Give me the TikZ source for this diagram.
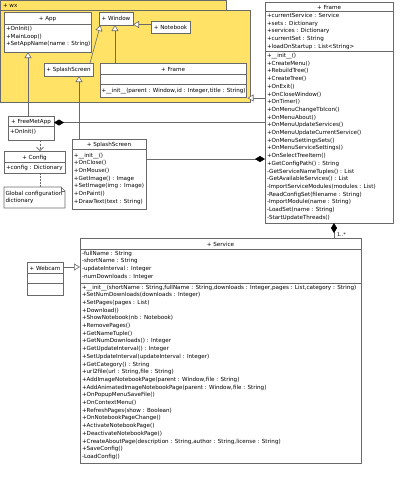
\documentclass[tikz,border=0pt]{standalone}
\usepackage{fontspec}
\setmainfont{DejaVu Sans}
\usetikzlibrary{arrows.meta,calc}
\definecolor{pkgfill}{RGB}{255,226,102}
\definecolor{linec}{RGB}{105,105,105}
\begin{document}
\begin{tikzpicture}[x=1pt,y=-1pt,
  font=\fontsize{5.6}{7.7}\selectfont,
  cls/.style={draw=linec, fill=white, line width=0.6pt, inner sep=0pt, outer sep=0pt, anchor=north west},
  pkg/.style={draw=linec, fill=pkgfill, line width=0.6pt, inner sep=0pt, outer sep=0pt, anchor=north west},
  sep/.style={draw=linec, line width=0.6pt},
  txt/.style={inner sep=0pt, outer sep=0pt, text=black},
  gen/.style={draw=linec, line width=0.6pt, arrows={-Triangle[length=6pt,width=7pt,fill=white]}},
  compS/.style={draw=linec, line width=0.6pt, arrows={Diamond[length=10pt,width=6pt,color=black]-}},
  compE/.style={draw=linec, line width=0.6pt, arrows={-Diamond[length=10pt,width=6pt,color=black]}},
  dep/.style={draw=linec, line width=0.6pt, dash pattern=on 2pt off 1.5pt, arrows={-Straight Barb[length=3.5pt,width=7pt]}},
  notelink/.style={draw=linec, line width=0.6pt, dash pattern=on 1.5pt off 1.5pt}
]
\fill[white] (0,0) rectangle (400,480);
\useasboundingbox (0,0) rectangle (400,480);

% ---------- package wx ----------
\node[pkg, minimum width=226pt, minimum height=10pt] (wxtab) at (0.5,0.5) {};
\node[pkg, minimum width=249.5pt, minimum height=92pt] (wxbody) at (0.5,10.5) {};
\node[txt, anchor=base west] (wxlbl) at (3,7.5) {+ wx};

% App
\node[cls, minimum width=87pt, minimum height=40pt] (app) at (4,12) {};
\draw[sep] ([shift={(0,12)}]app.north west) -- ([shift={(0,12)}]app.north east);
\node[txt, anchor=base] (apph) at ([shift={(0,8.5)}]app.north) {+ App};
\foreach \mt [count=\i from 0] in {{+OnInit()},{+MainLoop()},{+SetAppName(name : String)}}
  \node[txt, anchor=base west] (appm\i) at ([shift={(2,18.5+\i*7.7)}]app.north west) {\mt};

% Window
\node[cls, minimum width=34pt, minimum height=13pt] (win) at (99,12) {};
\node[txt, anchor=base] (winh) at ([shift={(0,8.8)}]win.north) {+ Window};

% Notebook
\node[cls, minimum width=39pt, minimum height=12pt] (nb) at (151,21) {};
\node[txt, anchor=base] (nbh) at ([shift={(0,8.5)}]nb.north) {+ Notebook};

% SplashScreen (wx)
\node[cls, minimum width=49pt, minimum height=13pt] (wxss) at (44,63) {};
\node[txt, anchor=base] (wxssh) at ([shift={(0,8.8)}]wxss.north) {+ SplashScreen};

% Frame (wx)
\node[cls, minimum width=146pt, minimum height=34pt] (wxfr) at (100,63) {};
\draw[sep] ([shift={(0,11.5)}]wxfr.north west) -- ([shift={(0,11.5)}]wxfr.north east);
\draw[sep] ([shift={(0,21.5)}]wxfr.north west) -- ([shift={(0,21.5)}]wxfr.north east);
\node[txt, anchor=base] (wxfrh) at ([shift={(0,8)}]wxfr.north) {+ Frame};
\node[txt, anchor=base west] (wxfrm) at ([shift={(1.5,29.5)}]wxfr.north west) {+\_\_init\_\_(parent : Window,id : Integer,title : String)};

% ---------- Frame (outer) ----------
\node[cls, minimum width=128pt, minimum height=221pt] (frm) at (265,2) {};
\draw[sep] ([shift={(0,9.5)}]frm.north west) -- ([shift={(0,9.5)}]frm.north east);
\draw[sep] ([shift={(0,49)}]frm.north west) -- ([shift={(0,49)}]frm.north east);
\node[txt, anchor=base] (frmh) at ([shift={(0,7)}]frm.north) {+ Frame};
\foreach \mt [count=\i from 0] in {{+currentService : Service},{+sets : Dictionary},{+services : Dictionary},{+currentSet : String},{+loadOnStartup : List<String>}}
  \node[txt, anchor=base west] (frma\i) at ([shift={(2,15.5+\i*7.7)}]frm.north west) {\mt};
\foreach \mt [count=\i from 0] in {{+\_\_init\_\_()},{+CreateMenu()},{+RebuildTree()},{+CreateTree()},{+OnExit()},{+OnCloseWindow()},{+OnTimer()},{+OnMenuChangeTbIcon()},{+OnMenuAbout()},{+OnMenuUpdateServices()},{+OnMenuUpdateCurrentService()},{+OnMenuSettingsSets()},{+OnMenuServiceSettings()},{+OnSelectTreeItem()},{+GetConfigPath() : String},{-GetServiceNameTuples() : List},{-GetAvailableServices() : List},{-ImportServiceModules(modules : List)},{-ReadConfigSet(filename : String)},{-ImportModule(name : String)},{-LoadSet(name : String)},{-StartUpdateThreads()}}
  \node[txt, anchor=base west] (frmm\i) at ([shift={(2,55.5+\i*7.7)}]frm.north west) {\mt};

% ---------- FreeMetApp ----------
\node[cls, minimum width=46pt, minimum height=24pt] (fma) at (8,116) {};
\draw[sep] ([shift={(0,10.5)}]fma.north west) -- ([shift={(0,10.5)}]fma.north east);
\node[txt, anchor=base] (fmah) at ([shift={(0,7.8)}]fma.north) {+ FreeMetApp};
\node[txt, anchor=base west] (fmam) at ([shift={(2,17.5)}]fma.north west) {+OnInit()};

% ---------- Config ----------
\node[cls, minimum width=61pt, minimum height=22pt] (cfg) at (4,151) {};
\draw[sep] ([shift={(0,11)}]cfg.north west) -- ([shift={(0,11)}]cfg.north east);
\node[txt, anchor=base] (cfgh) at ([shift={(0,8.3)}]cfg.north) {+ Config};
\node[txt, anchor=base west] (cfga) at ([shift={(2,18.5)}]cfg.north west) {+config : Dictionary};

% ---------- Note ----------
\node[inner sep=0pt, outer sep=0pt, anchor=north west, minimum width=61pt, minimum height=21pt] (note) at (4,187) {};
\draw[draw=linec, fill=white, line width=0.6pt] (note.north west) -- ([xshift=-4pt]note.north east) -- ([yshift=-4pt]note.north east) -- (note.south east) -- (note.south west) -- cycle;
\draw[draw=linec, line width=0.6pt] ([xshift=-4pt]note.north east) -- ([xshift=-4pt,yshift=-4pt]note.north east) -- ([yshift=-4pt]note.north east);
\node[txt, anchor=base west] (note1) at ([shift={(1.5,8)}]note.north west) {Global configuration};
\node[txt, anchor=base west] (note2) at ([shift={(1.5,15.7)}]note.north west) {dictionary};

% ---------- SplashScreen (outer) ----------
\node[cls, minimum width=74pt, minimum height=70pt] (ss) at (72,139) {};
\draw[sep] ([shift={(0,10.5)}]ss.north west) -- ([shift={(0,10.5)}]ss.north east);
\node[txt, anchor=base] (ssh) at ([shift={(0,7.8)}]ss.north) {+ SplashScreen};
\foreach \mt [count=\i from 0] in {{+\_\_init\_\_()},{+OnClose()},{+OnMouse()},{+GetImage() : Image},{+SetImage(img : Image)},{+OnPaint()},{+DrawText(text : String)}}
  \node[txt, anchor=base west] (ssm\i) at ([shift={(2,18+\i*7.7)}]ss.north west) {\mt};

% ---------- Service ----------
\node[cls, minimum width=281pt, minimum height=225pt] (svc) at (80,238) {};
\draw[sep] ([shift={(0,11)}]svc.north west) -- ([shift={(0,11)}]svc.north east);
\draw[sep] ([shift={(0,45)}]svc.north west) -- ([shift={(0,45)}]svc.north east);
\node[txt, anchor=base] (svch) at ([shift={(0,8)}]svc.north) {+ Service};
\foreach \mt [count=\i from 0] in {{-fullName : String},{-shortName : String},{-updateInterval : Integer},{-numDownloads : Integer}}
  \node[txt, anchor=base west] (svca\i) at ([shift={(2,17+\i*7.7)}]svc.north west) {\mt};
\foreach \mt [count=\i from 0] in {{+\_\_init\_\_(shortName : String,fullName : String,downloads : Integer,pages : List,category : String)},{+SetNumDownloads(downloads : Integer)},{+SetPages(pages : List)},{+Download()},{+ShowNotebook(nb : Notebook)},{+RemovePages()},{+GetNameTuple()},{+GetNumDownloads() : Integer},{+GetUpdateInterval() : Integer},{+SetUpdateInterval(updateInterval : Integer)},{+GetCategory() : String},{+url2file(url : String,file : String)},{+AddImageNotebookPage(parent : Window,file : String)},{+AddAnimatedImageNotebookPage(parent : Window,file : String)},{+OnPopupMenuSaveFile()},{+OnContextMenu()},{+RefreshPages(show : Boolean)},{+OnNotebookPageChange()},{+ActivateNotebookPage()},{+DeactivateNotebookPage()},{+CreateAboutPage(description : String,author : String,license : String)},{+SaveConfig()},{-LoadConfig()}}
  \node[txt, anchor=base west] (svcm\i) at ([shift={(2,51+\i*7.7)}]svc.north west) {\mt};

% ---------- Webcam ----------
\node[cls, minimum width=36pt, minimum height=33pt] (web) at (27,262) {};
\draw[sep] ([shift={(0,11)}]web.north west) -- ([shift={(0,11)}]web.north east);
\draw[sep] ([shift={(0,21)}]web.north west) -- ([shift={(0,21)}]web.north east);
\node[txt, anchor=base] (webh) at ([shift={(0,8)}]web.north) {+ Webcam};

% ---------- connectors ----------
% FreeMetApp -> App
\coordinate (c1) at ([shift={(20,0)}]fma.north west);
\draw[gen] (c1) -- (c1 |- app.south);
% SplashScreen -> wx SplashScreen
\coordinate (c2) at ([shift={(7,0)}]ss.north west);
\draw[gen] (c2) -- (c2 |- wxss.south);
% wx SplashScreen -> Window
\draw[gen] ([shift={(-3,0)}]wxss.north east) -- ([shift={(1.5,0)}]win.south west);
% wx Frame -> Window
\coordinate (c4) at ([shift={(15,0)}]wxfr.north west);
\draw[gen] (c4) -- (c4 |- win.south);
% Notebook -> Window
\coordinate (c5) at ([shift={(0,-0.5)}]win.south east);
\draw[gen] (c5 -| nb.west) -- (c5);
% Frame -> wx Frame
\coordinate (c6) at ([shift={(1.5,1)}]wxfr.south east);
\draw[gen] (c6 -| frm.west) -- (c6);
% FreeMetApp <>-- Frame
\coordinate (c7) at ([shift={(0,6.5)}]fma.north east);
\draw[compS] (c7) -- (c7 -| frm.west);
% SplashScreen --<> Frame
\coordinate (c8) at ([shift={(0,20)}]ss.north east);
\draw[compE] (c8) -- (c8 -| frm.west);
% Frame <>-- Service
\coordinate (c9) at ([shift={(69,0)}]frm.south west);
\draw[compS] (c9) -- (c9 |- svc.north) node[txt, pos=1, anchor=base west, xshift=3pt, yshift=1.5pt, font=\fontsize{5}{6}\selectfont] (mult) {1..*};
% Webcam -> Service
\coordinate (c10) at ([shift={(0,5)}]web.north east);
\draw[gen] (c10) -- (c10 -| svc.west);
% FreeMetApp --> Config
\coordinate (c11) at ([shift={(32,0)}]fma.south west);
\draw[dep] (c11) -- (c11 |- cfg.north);
% Config .. Note
\coordinate (c12) at ([shift={(36,0)}]cfg.south west);
\draw[notelink] (c12) -- (c12 |- note.north);
\end{tikzpicture}
\end{document}
